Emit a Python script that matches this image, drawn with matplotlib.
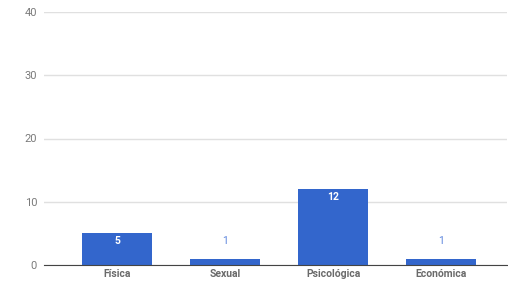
import matplotlib
matplotlib.use("Agg")
import matplotlib.pyplot as plt

categories = ["Física", "Sexual", "Psicológica", "Económica"]
values = [5, 1, 12, 1]
yticks = [0, 10, 20, 30, 40]

plt.rcParams['font.family'] = ['Roboto', 'DejaVu Sans']

fig = plt.figure(figsize=(5.08, 2.85), dpi=100)
ax = fig.add_axes([44/508, 20/285, 463/508, 253/285])

bar_color = "#3366cc"
x = list(range(len(categories)))
ax.bar(x, values, width=0.648, color=bar_color, zorder=3)

ax.set_xlim(-0.676, 3.611)
ax.set_ylim(0, 40)
ax.set_yticks(yticks)
ax.set_yticklabels([str(t) for t in yticks], fontsize=8, color="#7a7a7a")
ax.set_xticks(x)
ax.set_xticklabels(categories, fontsize=7.5, color="#6a6a6a", fontweight="semibold")
ax.tick_params(axis='both', length=0, pad=5)
ax.tick_params(axis='x', pad=3)
ax.grid(axis='y', color="#e0e0e0", linewidth=1, zorder=0)
for s in ["top", "right", "left"]:
    ax.spines[s].set_visible(False)
ax.spines["bottom"].set_color("#444444")
ax.spines["bottom"].set_linewidth(0.8)
ax.spines["bottom"].set_zorder(4)

for xi, v in zip(x, values):
    if v >= 3:
        ax.annotate(str(v), (xi, v), xytext=(0, -2), textcoords="offset points",
                    ha="center", va="top", fontsize=7.5, color="white", fontweight="bold", zorder=5)
    else:
        ax.annotate(str(v), (xi, v), xytext=(0, 9), textcoords="offset points",
                    ha="center", va="bottom", fontsize=7.5, color="#5b84dd", zorder=5)

fig.savefig("out.png", dpi=100)
